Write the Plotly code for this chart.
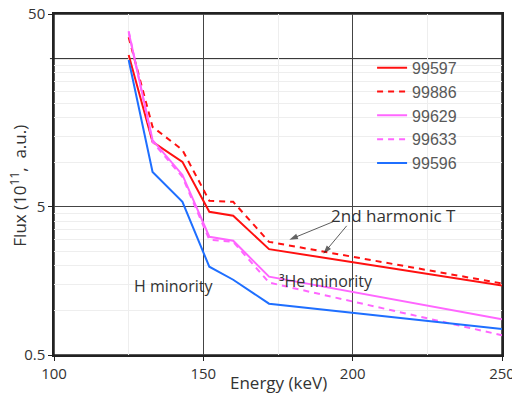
import plotly.graph_objects as go
import math

energy = [125, 133, 143, 152, 160, 172, 250]
shots = ["99597", "99886", "99629", "99633", "99596"]
flux_99597 = [52.8, 13.7, 10.05, 4.63, 4.35, 2.59, 1.47]
flux_99886 = [69.8, 17.3, 12.1, 5.49, 5.40, 2.90, 1.52]
flux_99629 = [75.4, 14.1, 8.2, 3.14, 2.95, 1.69, 0.87]
flux_99633 = [76.6, 13.7, 7.96, 3.00, 2.90, 1.54, 0.68]
flux_99596 = [48.9, 8.6, 5.4, 1.97, 1.61, 1.11, 0.75]

series = [flux_99597, flux_99886, flux_99629, flux_99633, flux_99596]
colors = ["#ff1010", "#ff1010", "#ff66ff", "#ff66ff", "#1f6fff"]
dashes = ["solid", "6px,5px", "solid", "6px,5px", "solid"]

y_tickvals = [0.5, 5, 100]
y_ticktext = ["0.5", "5", "50"]
y_major_line = 50
x_tickvals = [100, 150, 200, 250]

# annotation arrows: (tail_x, tail_flux, head_x, head_flux)
arrow_tails_x = [193.4, 198.0]
arrow_tails_y = [3.96, 3.72]
arrow_heads_x = [178.8, 190.2]
arrow_heads_y = [3.00, 2.41]

minor_y = []
for base in [0.5, 5, 50]:
    for k in range(2, 10):
        minor_y.append(base * k)

FONT = "Open Sans"

fig = go.Figure()
for name, ys, c, d in zip(shots, series, colors, dashes):
    fig.add_trace(go.Scatter(x=energy, y=ys, mode="lines", name=name,
                             line=dict(color=c, width=2, dash=d)))

for tx, ty, hx, hy in zip(arrow_tails_x, arrow_tails_y, arrow_heads_x, arrow_heads_y):
    fig.add_trace(go.Scatter(x=[tx, hx], y=[ty, hy], mode="lines+markers",
                             showlegend=False, hoverinfo="skip",
                             line=dict(color="#333", width=0.8),
                             marker=dict(symbol="arrow", size=[0, 9], angleref="previous",
                                         color="#222", line=dict(width=0))))

fig.update_layout(
    width=512, height=397,
    margin=dict(l=54, r=10, t=14, b=42),
    paper_bgcolor="white", plot_bgcolor="white",
    font=dict(family=FONT, size=15, color="#333333"),
    showlegend=True,
    legend=dict(x=0.71, y=0.892, xanchor="left", yanchor="top",
                bgcolor="rgba(0,0,0,0)", borderwidth=0,
                font=dict(family="Liberation Sans, Arial", size=16, color="#595959"),
                tracegroupgap=0),
)

fig.add_shape(type="line", xref="paper", x0=-0.009, x1=1, yref="y",
              y0=y_major_line, y1=y_major_line, line=dict(color="#222", width=1),
              layer="below")
fig.add_shape(type="rect", xref="paper", yref="paper", x0=0, x1=1, y0=0, y1=1,
              line=dict(color="#222", width=1.5), fillcolor="rgba(0,0,0,0)",
              layer="below")

fig.update_xaxes(
    range=[100, 250], tickvals=x_tickvals, automargin=False,
    ticklabeloverflow="allow",
    showline=True, linecolor="#222", linewidth=1.5, mirror=True,
    ticks="outside", ticklen=4, tickcolor="#222",
    showgrid=True, gridcolor="#444", gridwidth=1,
    minor=dict(tickvals=[125, 175, 225], showgrid=True, gridcolor="#eeeeee", ticks=""),
    tickfont=dict(family=FONT, size=15, color="#333"),
    zeroline=False,
)
fig.update_yaxes(
    type="log", range=[math.log10(0.5), 2.0], automargin=False,
    ticklabeloverflow="allow",
    tickvals=y_tickvals, ticktext=y_ticktext,
    showline=True, linecolor="#222", linewidth=1.5, mirror=True,
    ticks="outside", ticklen=4, tickcolor="#222",
    showgrid=True, gridcolor="#444", gridwidth=1,
    minor=dict(tickvals=minor_y, showgrid=True, gridcolor="#eeeeee", ticks=""),
    tickfont=dict(family=FONT, size=15, color="#333"),
    zeroline=False,
)

fig.add_annotation(x=0.502, y=-0.082, xref="paper", yref="paper", text="Energy (keV)",
                   showarrow=False, xanchor="center", yanchor="middle",
                   font=dict(family=FONT, size=17, color="#333"))
fig.add_annotation(x=-0.080, y=0.497, xref="paper", yref="paper",
                   text="Flux (10<sup>11</sup>,  a.u.)", textangle=-90,
                   showarrow=False, xanchor="center", yanchor="middle",
                   font=dict(family=FONT, size=17, color="#333"))

fig.add_annotation(x=213.8, y=0.638, xref="x", yref="y", text="2nd harmonic T",
                   showarrow=False, font=dict(family=FONT, size=17, color="#333"))
fig.add_annotation(x=191.1, y=0.200, xref="x", yref="y", text="³He minority",
                   showarrow=False, font=dict(family=FONT, size=16, color="#333"))
fig.add_annotation(x=140.3, y=0.166, xref="x", yref="y", text="H minority",
                   showarrow=False, font=dict(family=FONT, size=16, color="#333"))

fig.write_html("out.html")
